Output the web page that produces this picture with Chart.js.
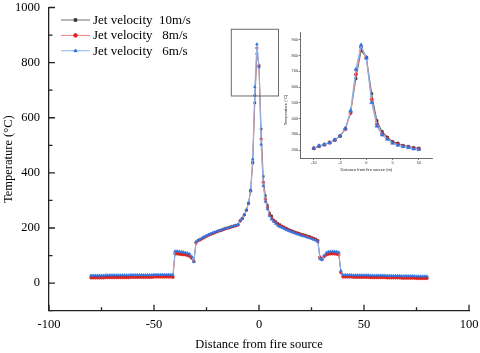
<!DOCTYPE html>
<html>
<head>
<meta charset="utf-8">
<script src="https://cdn.jsdelivr.net/npm/chart.js@4.4.1/dist/chart.umd.min.js"></script>
<style>
  html, body { margin: 0; padding: 0; background: #fff; }
  #wrap { position: relative; width: 480px; height: 353px; }
  #main { position: absolute; left: 0; top: 0; width: 480px; height: 353px; }
  #inset { position: absolute; left: 270px; top: 25px; width: 170px; height: 155px; }
</style>
</head>
<body>
<div id="wrap">
  <canvas id="main" width="480" height="353"></canvas>
  <canvas id="inset" width="170" height="155"></canvas>
</div>
<script>
// distance from fire source (m)
const xs = [
  -80,-79,-78,-77,-76,-75,-74,-73,-72,-71,-70,-69,-68,-67,-66,-65,-64,-63,-62,-61,
  -60,-59,-58,-57,-56,-55,-54,-53,-52,-51,-50,-49,-48,-47,-46,-45,-44,-43,-42,-41,
  -40,-39,-38,-37,-36,-35,-34,-33,-32,-31,-30,-29,-28,-27,-26,-25,-24,-23,-22,-21,
  -20,-19,-18,-17,-16,-15,-14,-13,-12,-11,-10,-9,-8,-7,-6,-5,-4,-3,-2,-1,
  0,1,2,3,4,5,6,7,8,9,10,11,12,13,14,15,16,17,18,19,
  20,21,22,23,24,25,26,27,28,29,30,31,32,33,34,35,36,37,38,39,
  40,41,42,43,44,45,46,47,48,49,50,51,52,53,54,55,56,57,58,59,
  60,61,62,63,64,65,66,67,68,69,70,71,72,73,74,75,76,77,78,79,80
];

// temperature, jet velocity 10 m/s
const temp10 = [
  21,21,21,21,21,21,21,22,22,22, 22,22,22,22,22,22,22,22,22,23,
  23,23,23,23,23,23,23,23,23,23, 24,24,24,24,24,24,24,24,24,
  23,
  108,108,107,106,105,104,102,99,
  92,80,
  148,155,
  158,163,167,171,175,178,181,184,187,190,192,195,198,200,202,205,207,209,212,
  226,235,248,265,290,336,440,654,832,790,559,387,317,282,254,244,229,223,216,212,
  207,203,199,195,192,189,186,183,181,178,176,174,171,169,166,163,160,
  155,95,88,98,104,107,108,108,108,107,105,40,
  24,24,24,24,24,23,23,23,23,23, 23,23,23,22,22,22,22,22,22,22,
  22,21,21,21,21,21,21,21,20,20, 20,20,20,20,20,19,19,19,19,19, 19
];

// temperature, jet velocity 8 m/s
const temp8 = [
  19,19,19,19,19,19,19,20,20,20, 20,20,20,20,20,20,20,20,20,21,
  21,21,21,21,21,21,21,21,21,21, 22,22,22,22,22,22,22,22,22,
  21,
  106,106,105,104,103,102,100,97,
  90,80,
  146,154,
  157,162,166,170,174,177,180,183,186,189,191,194,197,199,201,204,206,208,211,
  225,234,247,264,289,333,435,681,853,788,523,366,305,275,249,237,226,220,212,208,
  205,201,197,193,190,187,184,181,179,176,174,172,169,167,164,161,158,
  153,93,86,96,102,105,106,106,106,105,103,38,
  22,22,22,22,22,21,21,21,21,21, 21,21,21,20,20,20,20,20,20,20,
  20,19,19,19,19,19,19,19,18,18, 18,18,18,18,18,17,17,17,17,17, 17
];

// temperature, jet velocity 6 m/s
const temp6 = [
  28,28,28,28,28,28,28,29,29,29, 29,29,29,29,29,29,29,29,29,30,
  30,30,30,30,30,30,30,30,30,30, 31,31,31,31,31,31,31,31,31,
  30,
  116,116,115,114,113,111,109,106,
  96,77,
  150,156,
  159,164,168,172,176,179,182,185,188,191,193,196,199,201,203,206,208,210,212,
  227,235,248,265,290,338,450,712,867,784,503,353,296,269,244,231,223,216,208,204,
  201,197,193,190,187,184,181,178,176,173,171,169,166,164,161,158,155,
  150,88,84,100,110,114,115,115,115,114,112,45,
  30,30,30,30,30,29,29,29,29,29, 29,29,29,28,28,28,28,28,28,28,
  28,27,27,27,27,27,27,27,26,26, 26,26,26,26,26,25,25,25,25,25, 25
];

const seriesNames = ["Jet velocity  10m/s", "Jet velocity   8m/s", "Jet velocity   6m/s"];
// zoomed region marked on the main chart: x from, x to, T from, T to
const zoomBox = [-13.2, 9.3, 679, 921];
// inset tick values
const insetXTicks = [-10, -5, 0, 5, 10];
const insetYTicks = [200, 300, 400, 500, 600, 700, 800, 900];

const serif = "'Liberation Serif', 'Times New Roman', serif";
const sans = "'Liberation Sans', Arial, sans-serif";

const styles = [
  { line: "#707070", point: "#333333", shape: "rect", order: 3 },
  { line: "#f08080", point: "#e02424", shape: "circle", order: 2 },
  { line: "#86b4ef", point: "#2e72e0", shape: "triangle", order: 1 }
];

function points(ys, lo, hi) {
  const out = [];
  xs.forEach((x, i) => { if (x >= lo && x <= hi) out.push({ x: x, y: ys[i] }); });
  return out;
}

function makeSets(lo, hi, lw, radii) {
  return [temp10, temp8, temp6].map((ys, i) => ({
    label: seriesNames[i],
    data: points(ys, lo, hi),
    borderColor: styles[i].line,
    backgroundColor: styles[i].point,
    pointBackgroundColor: styles[i].point,
    pointBorderColor: styles[i].point,
    pointStyle: styles[i].shape,
    pointRadius: radii[i],
    pointBorderWidth: 0.5,
    borderWidth: lw,
    tension: 0,
    order: styles[i].order
  }));
}

// inward tick marks, long on labelled ticks
const innerTicks = {
  id: "innerTicks",
  afterDraw(chart) {
    const ctx = chart.ctx;
    const sx = chart.scales.x, sy = chart.scales.y;
    const a = chart.chartArea;
    ctx.save();
    ctx.strokeStyle = "#222";
    ctx.lineWidth = 1.3;
    ctx.beginPath();
    sx.ticks.forEach(t => {
      const p = sx.getPixelForValue(t.value);
      const len = t.value % 50 === 0 ? 6 : 3.5;
      ctx.moveTo(p, a.bottom);
      ctx.lineTo(p, a.bottom - len);
    });
    sy.ticks.forEach(t => {
      const p = sy.getPixelForValue(t.value);
      const len = t.value % 200 === 0 ? 6 : 3.5;
      ctx.moveTo(a.left, p);
      ctx.lineTo(a.left + len, p);
    });
    ctx.stroke();
    ctx.restore();
  }
};

const boxPlugin = {
  id: "zoomBox",
  afterDraw(chart) {
    const ctx = chart.ctx;
    const x0 = chart.scales.x.getPixelForValue(zoomBox[0]);
    const x1 = chart.scales.x.getPixelForValue(zoomBox[1]);
    const y0 = chart.scales.y.getPixelForValue(zoomBox[3]);
    const y1 = chart.scales.y.getPixelForValue(zoomBox[2]);
    ctx.save();
    ctx.strokeStyle = "#6a6a6a";
    ctx.lineWidth = 1;
    ctx.strokeRect(x0, y0, x1 - x0, y1 - y0);
    ctx.restore();
  }
};

const legendPlugin = {
  id: "legendLines",
  afterDraw(chart) {
    const ctx = chart.ctx;
    ctx.save();
    ctx.font = "13px " + serif;
    ctx.textBaseline = "middle";
    seriesNames.forEach((name, i) => {
      const y = 20 + i * 15.4;
      ctx.strokeStyle = styles[i].line;
      ctx.lineWidth = 1;
      ctx.beginPath();
      ctx.moveTo(61, y);
      ctx.lineTo(90, y);
      ctx.stroke();
      ctx.fillStyle = styles[i].point;
      ctx.strokeStyle = styles[i].point;
      Chart.helpers.drawPoint(ctx, { pointStyle: styles[i].shape, radius: 1.8, rotation: 0, borderWidth: 0.5 }, 75.5, y);
      ctx.fillStyle = "#000";
      ctx.fillText(name, 93, y + 0.5);
    });
    ctx.restore();
  }
};

const mainFont = { family: serif, size: 12.5 };

new Chart(document.getElementById("main"), {
  type: "line",
  data: { datasets: makeSets(-80, 80, 1, [1.4, 1.3, 1.6]) },
  options: {
    responsive: false,
    animation: false,
    layout: { padding: { left: 0, right: 11, top: 7.5, bottom: 0 } },
    plugins: { legend: { display: false }, tooltip: { enabled: false } },
    scales: {
      x: {
        type: "linear", min: -100, max: 100,
        ticks: { stepSize: 25, autoSkip: false, maxRotation: 0, padding: 7, color: "#000", font: mainFont,
                 callback: v => (v % 50 === 0 ? String(v) : "") },
        grid: { display: true, drawOnChartArea: false, drawTicks: false },
        border: { display: true, color: "#222", width: 1.3 },
        title: { display: true, text: "Distance from fire source", color: "#000", font: mainFont, padding: { top: 0, bottom: 0.5 } },
        afterFit: s => { s.height = 42.3; s.paddingLeft = 0; s.paddingRight = 0; }
      },
      y: {
        type: "linear", min: -100, max: 1000,
        ticks: { stepSize: 100, autoSkip: false, padding: 9, color: "#000", font: mainFont,
                 callback: v => (v % 200 === 0 ? String(v) : "") },
        grid: { display: true, drawOnChartArea: false, drawTicks: false },
        border: { display: true, color: "#222", width: 1.3 },
        title: { display: true, text: "Temperature (°C)", color: "#000", font: mainFont, padding: { top: 1.5, bottom: 0 } },
        afterFit: s => { s.width = 49; s.paddingTop = 0; s.paddingBottom = 0; }
      }
    }
  },
  plugins: [innerTicks, boxPlugin, legendPlugin]
});

// inset: close-up of the peak
const insetTitle = {
  id: "insetTitle",
  afterDraw(chart) {
    const ctx = chart.ctx;
    ctx.save();
    ctx.font = "4px " + sans;
    ctx.fillStyle = "#222";
    ctx.textAlign = "center";
    ctx.textBaseline = "middle";
    ctx.translate(16, 85);
    ctx.rotate(-Math.PI / 2);
    ctx.fillText("Temperature (°C)", 0, 0);
    ctx.restore();
  }
};

const insetFont = { family: sans, size: 4 };

new Chart(document.getElementById("inset"), {
  type: "line",
  data: { datasets: makeSets(-10, 10, 1.1, [1.7, 1.6, 2.2]) },
  options: {
    responsive: false,
    animation: false,
    layout: { padding: { left: 0, right: 8, top: 7, bottom: 0 } },
    plugins: { legend: { display: false }, tooltip: { enabled: false } },
    scales: {
      x: {
        type: "linear", min: -12.5, max: 12.5,
        afterBuildTicks: s => { s.ticks = insetXTicks.map(v => ({ value: v })); },
        ticks: { autoSkip: false, maxRotation: 0, padding: 0.5, color: "#333", font: insetFont,
                 callback: v => String(v) },
        grid: { display: true, drawOnChartArea: false, drawTicks: true, tickLength: 2, color: "#444", lineWidth: 0.7 },
        border: { display: true, color: "#444", width: 0.8 },
        title: { display: true, text: "Distance from fire source (m)", color: "#222", font: insetFont, padding: { top: 0, bottom: 7.6 } },
        afterFit: s => { s.height = 22; s.paddingLeft = 0; s.paddingRight = 0; }
      },
      y: {
        type: "linear", min: 150, max: 950,
        afterBuildTicks: s => { s.ticks = insetYTicks.map(v => ({ value: v })); },
        ticks: { autoSkip: false, padding: 0.5, color: "#333", font: insetFont,
                 callback: v => String(v) },
        grid: { display: true, drawOnChartArea: false, drawTicks: true, tickLength: 2, color: "#444", lineWidth: 0.7 },
        border: { display: true, color: "#444", width: 0.8 },
        afterFit: s => { s.width = 30.7; s.paddingTop = 0; s.paddingBottom = 0; }
      }
    }
  },
  plugins: [insetTitle]
});
</script>
</body>
</html>
